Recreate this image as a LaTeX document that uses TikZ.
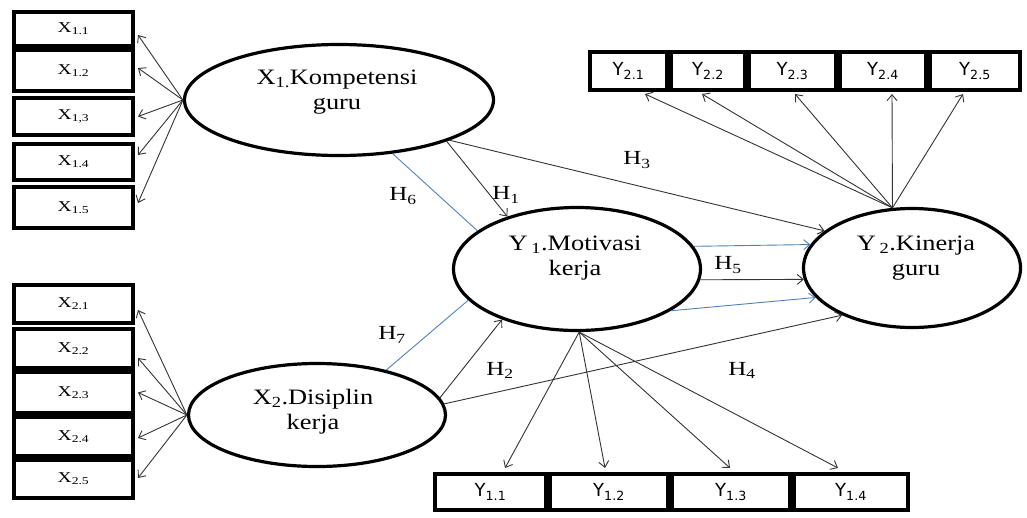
\documentclass[tikz,border=0pt]{standalone}
\usepackage{fontspec}
\setmainfont{Liberation Serif}
\newfontfamily\ellfont[FakeStretch=1.2]{Liberation Serif}
\newfontfamily\hfont[FakeStretch=1.25]{Liberation Serif}
\newfontfamily\boxfont[FakeStretch=1.3]{Liberation Serif}
\newfontfamily\yboxfont{DejaVu Sans}
\usetikzlibrary{shapes.geometric,arrows.meta}
\definecolor{blueline}{RGB}{79,129,189}
\begin{document}
\begin{tikzpicture}[x=1pt,y=-1pt,
 lat/.style={ellipse,draw,line width=3.2pt,inner sep=0pt},
 lattext/.style={align=center,inner sep=0pt,font=\ellfont\fontsize{22}{25}\selectfont},
 xbox/.style={draw,line width=4pt,inner sep=0pt,minimum width=119pt,font=\boxfont\fontsize{15}{18}\selectfont},
 ybox/.style={draw,line width=4pt,inner sep=0pt,minimum height=38pt,font=\yboxfont\fontsize{18}{20}\selectfont},
 arr/.style={-{Straight Barb[length=6pt,width=10pt]},line width=0.9pt,draw=black!80},
 barr/.style={-{Straight Barb[length=6pt,width=10pt]},line width=0.9pt,draw=blueline},
 blu/.style={line width=0.9pt,draw=blueline},
 hlab/.style={font=\hfont\fontsize{20}{22}\selectfont,inner sep=0pt}]
\useasboundingbox (0,0) rectangle (1027,517);

% latent variables
\node[lat,minimum width=309pt,minimum height=111pt] (x1) at (339,100) {};
\node[lat,minimum width=257pt,minimum height=103pt] (x2) at (317,415) {};
\node[lat,minimum width=247pt,minimum height=123pt] (y1) at (577,269) {};
\node[lat,minimum width=217pt,minimum height=119pt] (y2) at (912,268) {};
\node[lattext] (x1t) at (337,92) {X\textsubscript{1.}Kompetensi\\guru};
\node[lattext] (x2t) at (313,412) {X\textsubscript{2}.Disiplin\\kerja};
\node[lattext] (y1t) at (575,258) {Y\,\textsubscript{1}.Motivasi\\kerja};
\node[lattext] (y2t) at (916,258) {Y\,\textsubscript{2}.Kinerja\\guru};

% X1 indicators
\node[xbox,minimum height=34pt] (xa1) at (73.5,29) {X\textsubscript{1.1}};
\node[xbox,minimum height=41pt] (xa2) at (73.5,70.5) {X\textsubscript{1.2}};
\node[xbox,minimum height=37pt] (xa3) at (73.5,116.5) {X\textsubscript{1,3}};
\node[xbox,minimum height=36pt] (xa4) at (73.5,162) {X\textsubscript{1.4}};
\node[xbox,minimum height=41pt] (xa5) at (73.5,207.5) {X\textsubscript{1.5}};
% X2 indicators
\node[xbox,minimum height=38pt] (xb1) at (73.5,304) {X\textsubscript{2.1}};
\node[xbox,minimum height=39pt] (xb2) at (73.5,348.5) {X\textsubscript{2.2}};
\node[xbox,minimum height=41pt] (xb3) at (73.5,392.5) {X\textsubscript{2.3}};
\node[xbox,minimum height=39pt] (xb4) at (73.5,436.5) {X\textsubscript{2.4}};
\node[xbox,minimum height=38pt] (xb5) at (73.5,479) {X\textsubscript{2.5}};
% Y2 indicators
\node[ybox,minimum width=77pt] (yb1) at (628.5,71) {Y\textsubscript{2.1}};
\node[ybox,minimum width=74pt] (yb2) at (708,71) {Y\textsubscript{2.2}};
\node[ybox,minimum width=87pt] (yb3) at (792.5,71) {Y\textsubscript{2.3}};
\node[ybox,minimum width=86pt] (yb4) at (883,71) {Y\textsubscript{2.4}};
\node[ybox,minimum width=90pt] (yb5) at (975,71) {Y\textsubscript{2.5}};
% Y1 indicators
\node[ybox,minimum height=36pt,minimum width=111pt] (ya1) at (490.5,492) {Y\textsubscript{1.1}};
\node[ybox,minimum height=36pt,minimum width=118pt] (ya2) at (609,492) {Y\textsubscript{1.2}};
\node[ybox,minimum height=36pt,minimum width=118pt] (ya3) at (731,492) {Y\textsubscript{1.3}};
\node[ybox,minimum height=36pt,minimum width=114pt] (ya4) at (851,492) {Y\textsubscript{1.4}};

% loadings
\foreach \n/\s in {1/-6,2/2.5,3/0,4/7,5/4.5}
  \draw[arr] (x1.west) -- ([xshift=3pt,yshift=\s pt]xa\n.east);
\foreach \n/\s in {1/-6,2/-9.5,3/0,4/-1.5,5/1}
  \draw[arr] (x2.west) -- ([xshift=3pt,yshift=\s pt]xb\n.east);
\foreach \n/\s in {1/16.5,2/-6,3/2.5,4/9,5/-12}
  \draw[arr] (y2.108.7) -- ([xshift=\s pt,yshift=-2pt]yb\n.south);
\foreach \n/\s in {1/14.5,2/-4,3/-1,4/-13}
  \draw[arr] (y1.-88) -- ([xshift=\s pt,yshift=4pt]ya\n.north);

% structural paths
\draw[arr] (x1.-21.2) -- (y1.143.6);
\draw[arr] (x1.-20) -- (y2.157.6);
\draw[blu] (x1.-45) -- (y1.159.4);
\draw[barr] (y1.11.3) -- (y2.167.6);
\draw[arr] (y1.-5) -- (y2.186);
\draw[barr] (y1.-24.6) -- (y2.197.7);
\draw[blu] (x2.33.5) -- (y1.196.5);
\draw[arr] (x2.8.5) -- (y1.214.6);
\draw[arr] (x2.5.9) -- (y2.214.3);

% hypothesis labels
\node[hlab] (h1) at (506,195) {H\textsubscript{1}};
\node[hlab] (h2) at (500,370) {H\textsubscript{2}};
\node[hlab] (h3) at (637,160) {H\textsubscript{3}};
\node[hlab] (h4) at (742,370) {H\textsubscript{4}};
\node[hlab] (h5) at (728,265) {H\textsubscript{5}};
\node[hlab] (h6) at (403,196) {H\textsubscript{6}};
\node[hlab] (h7) at (392,335) {H\textsubscript{7}};
\end{tikzpicture}
\end{document}
